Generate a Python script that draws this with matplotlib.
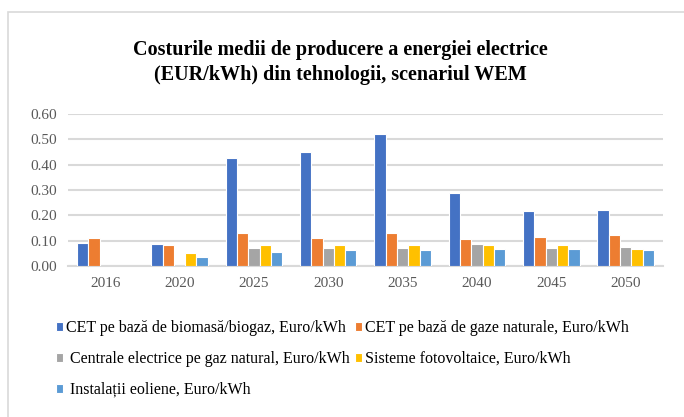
import numpy as np
import matplotlib.pyplot as plt
import matplotlib as mpl
from matplotlib.patches import Rectangle

mpl.rcParams['font.family'] = ['Liberation Serif', 'DejaVu Serif']

years = ['2016', '2020', '2025', '2030', '2035', '2040', '2045', '2050']
biomasa = [0.090, 0.087, 0.425, 0.450, 0.519, 0.289, 0.217, 0.219]
gaze_cet = [0.109, 0.082, 0.132, 0.111, 0.130, 0.106, 0.115, 0.122]
centrale_gaz = [np.nan, np.nan, 0.070, 0.070, 0.070, 0.085, 0.070, 0.074]
fotovoltaice = [np.nan, 0.052, 0.082, 0.082, 0.082, 0.082, 0.083, 0.066]
eoliene = [np.nan, 0.036, 0.054, 0.064, 0.064, 0.068, 0.068, 0.064]

series = [
    ('CET pe bază de biomasă/biogaz, Euro/kWh', biomasa, '#4472C4'),
    ('CET pe bază de gaze naturale, Euro/kWh', gaze_cet, '#ED7D31'),
    (' Centrale electrice pe gaz natural, Euro/kWh', centrale_gaz, '#A5A5A5'),
    ('Sisteme fotovoltaice, Euro/kWh', fotovoltaice, '#FFC000'),
    (' Instalații eoliene, Euro/kWh', eoliene, '#5B9BD5'),
]

fig = plt.figure(figsize=(6.84, 4.17), dpi=100)
ax = fig.add_axes([0.0994, 0.362, 0.8696, 0.365])

# outer chart border
fig.patches.append(Rectangle((8 / 684, -0.1), 1.2, 1 - 12 / 417 + 0.1, transform=fig.transFigure,
                             fill=False, edgecolor='#D9D9D9', linewidth=1.2))

x = np.arange(len(years))
w = 0.152
bars = []
for i, (label, vals, color) in enumerate(series):
    b = ax.bar(x + (i - 2) * w, vals, w, color=color, edgecolor='white', linewidth=0.8,
               label=label, zorder=3)
    bars.append(b)

ax.set_xlim(-0.5, len(years) - 0.5)
ax.set_ylim(0, 0.6)
ax.set_yticks(np.arange(0, 0.61, 0.1))
ax.set_yticklabels(['%.2f' % v for v in np.arange(0, 0.61, 0.1)])
ax.set_xticks(x)
ax.set_xticklabels(years)
ax.yaxis.grid(True, color='#D9D9D9', linewidth=1.5, zorder=0)
ax.set_axisbelow(True)
for s in ['top', 'right', 'left']:
    ax.spines[s].set_visible(False)
ax.spines['bottom'].set_color('#D9D9D9')
ax.spines['bottom'].set_linewidth(1.5)
ax.tick_params(length=0, labelsize=11, colors='#595959', pad=8)

fig.text(0.497, 0.851, 'Costurile medii de producere a energiei electrice\n(EUR/kWh) din tehnologii, scenariul WEM',
         ha='center', va='center', fontsize=14.5, fontweight='bold', linespacing=1.35)

# row-major legend order
order = [0, 2, 4, 1, 3]
ax.legend([bars[i] for i in order], [series[i][0] for i in order],
          loc='upper left', bbox_to_anchor=(0.082, 0.232), bbox_transform=fig.transFigure,
          ncol=2, frameon=False,
          fontsize=11.5, handlelength=0.45, handleheight=0.45, handletextpad=0.2,
          columnspacing=0.3, labelspacing=0.93, borderaxespad=0, borderpad=0)

fig.savefig('out.png', dpi=100)
